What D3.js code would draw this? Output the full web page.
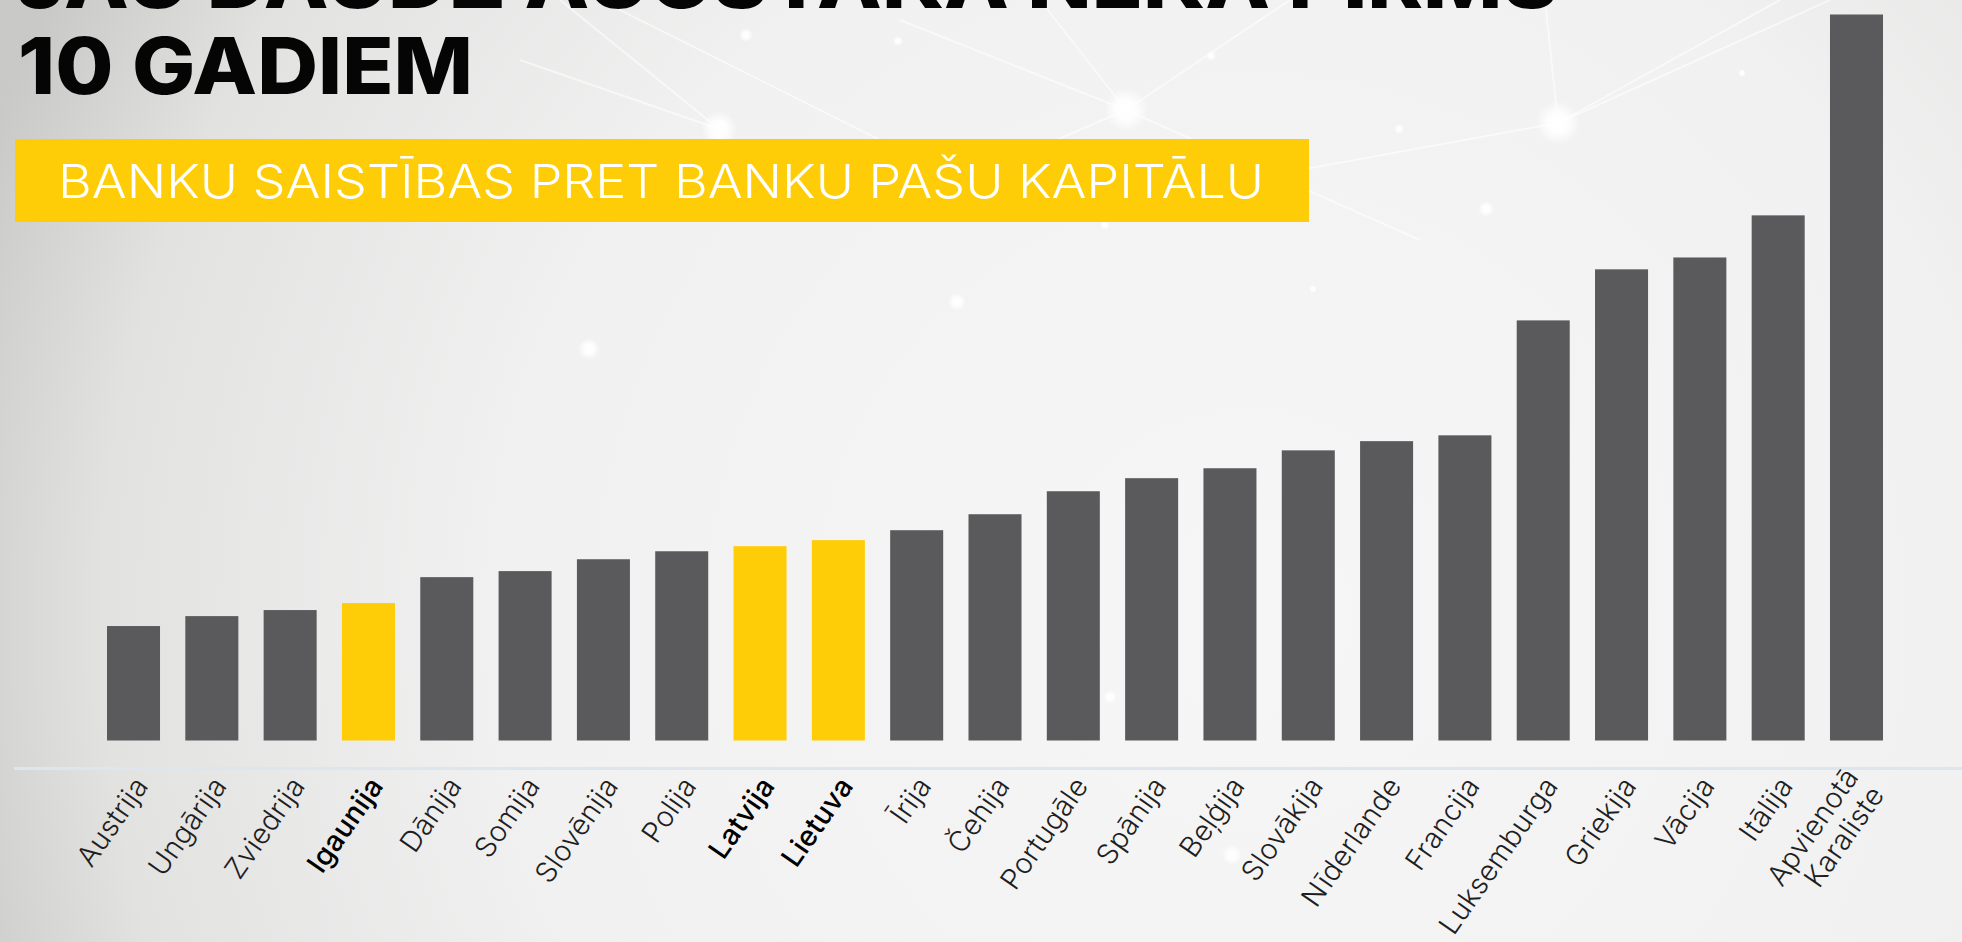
<!DOCTYPE html>
<html>
<head>
<meta charset="utf-8">
<script src="https://cdn.jsdelivr.net/npm/d3@7"></script>
<style>
  html, body { margin: 0; padding: 0; background: #f2f2f2; overflow: hidden; }
  svg { display: block; }
</style>
</head>
<body>
<div class="svg-container"></div>
<script>
// chart data (leverage ratio)
const countries = ["Austrija", "Ungārija", "Zviedrija", "Igaunija", "Dānija", "Somija", "Slovēnija", "Polija",
    "Latvija", "Lietuva", "Īrija", "Čehija", "Portugāle", "Spānija", "Beļģija", "Slovākija", "Nīderlande",
    "Francija", "Luksemburga", "Griekija", "Vācija", "Itālija", "Apvienotā Karaliste"];
const values = [4.73, 5.14, 5.39, 5.68, 6.75, 7.00, 7.49, 7.82, 8.03, 8.28, 8.69, 9.35, 10.30, 10.84,
    11.25, 11.99, 12.37, 12.61, 17.36, 19.47, 19.96, 21.70, 30.0];
const highlighted = ["Igaunija", "Latvija", "Lietuva"];

const titleLines = ["JAU DAUDZ AUGSTĀKA NEKĀ PIRMS", "10 GADIEM"];
const subtitle = "BANKU SAISTĪBAS PRET BANKU PAŠU KAPITĀLU";

let width = 1962;
let height = 942;

const GREY = "#5a5a5c";
const YELLOW = "#fecd07";

let svg = d3.select(".svg-container")
    .append("svg")
    .attr("width", width)
    .attr("height", height);

/**************
 * BACKGROUND *
 **************/

let defs = svg.append("defs");

let bg = defs.append("radialGradient")
    .attr("id", "bg")
    .attr("gradientUnits", "userSpaceOnUse")
    .attr("cx", 1250).attr("cy", 620).attr("r", 1350);
bg.append("stop").attr("offset", "0%").attr("stop-color", "#f6f6f6");
bg.append("stop").attr("offset", "55%").attr("stop-color", "#f1f1f1");
bg.append("stop").attr("offset", "85%").attr("stop-color", "#e2e2e1");
bg.append("stop").attr("offset", "100%").attr("stop-color", "#c9c9c8");

let glow = defs.append("radialGradient").attr("id", "glow");
glow.append("stop").attr("offset", "0%").attr("stop-color", "#ffffff").attr("stop-opacity", 1);
glow.append("stop").attr("offset", "45%").attr("stop-color", "#ffffff").attr("stop-opacity", 0.9);
glow.append("stop").attr("offset", "100%").attr("stop-color", "#ffffff").attr("stop-opacity", 0);

svg.append("rect")
    .attr("width", width)
    .attr("height", height)
    .attr("fill", "url(#bg)");

// faint network decoration behind the chart
const netLines = [
    [[560, 0], [719, 129]], [[600, 0], [880, 140]], [[1126, 110], [1040, 0]], [[1126, 110], [1290, 0]],
    [[1126, 110], [1420, 240]], [[1300, 170], [1558, 123]], [[1558, 123], [1830, 0]], [[1558, 123], [1780, 0]],
    [[1558, 123], [1545, 0]], [[719, 129], [520, 60]], [[1126, 110], [900, 20]], [[1010, 160], [1126, 110]]
];
const netDots = [
    [1126, 110, 22], [1558, 123, 22], [719, 129, 18], [746, 35, 7], [898, 41, 5], [1211, 56, 5],
    [1399, 129, 5], [1486, 209, 8], [1742, 73, 4], [957, 302, 9], [589, 349, 11], [1313, 289, 4],
    [1105, 225, 5], [1232, 855, 10], [1110, 697, 7]
];

let deco = svg.append("g").attr("class", "deco");
deco.selectAll("line")
    .data(netLines)
    .enter()
    .append("line")
    .attr("x1", d => d[0][0]).attr("y1", d => d[0][1])
    .attr("x2", d => d[1][0]).attr("y2", d => d[1][1])
    .attr("stroke", "#ffffff")
    .attr("stroke-opacity", 0.55)
    .attr("stroke-width", 2);
deco.selectAll("circle")
    .data(netDots)
    .enter()
    .append("circle")
    .attr("cx", d => d[0]).attr("cy", d => d[1]).attr("r", d => d[2])
    .attr("fill", "url(#glow)");

/*********
 * TITLE *
 *********/

svg.append("text")
    .attr("x", 16).attr("y", 8)
    .attr("textLength", 1542)
    .attr("lengthAdjust", "spacingAndGlyphs")
    .style("font-family", "Inter, Lato, sans-serif")
    .style("font-weight", 800)
    .style("font-size", "78px")
    .style("fill", "#050505")
    .text(titleLines[0]);

svg.append("text")
    .attr("x", 18).attr("y", 94)
    .attr("textLength", 455)
    .attr("lengthAdjust", "spacingAndGlyphs")
    .style("font-family", "Inter, Lato, sans-serif")
    .style("font-weight", 800)
    .style("font-size", "78px")
    .style("fill", "#050505")
    .text(titleLines[1]);

svg.append("rect")
    .attr("x", 15).attr("y", 139)
    .attr("width", 1294).attr("height", 83)
    .attr("fill", YELLOW);

svg.append("text")
    .attr("x", 58).attr("y", 198)
    .attr("textLength", 1206)
    .attr("lengthAdjust", "spacingAndGlyphs")
    .style("font-family", "Inter, Lato, sans-serif")
    .style("font-weight", 300)
    .style("font-size", "47px")
    .style("fill", "#ffffff")
    .text(subtitle);

/*********
 * CHART *
 *********/

const baseY = 740.5;

let x = d3.scaleBand()
    .domain(countries)
    .range([81.7, 1908.3])
    .padding(0.323);

let y = d3.scaleLinear()
    .domain([0, 30])
    .range([baseY, 14.5]);

svg.append("g").attr("class", "bars")
    .selectAll("rect")
    .data(countries)
    .enter()
    .append("rect")
    .attr("x", d => x(d))
    .attr("y", (d, i) => y(values[i]))
    .attr("width", x.bandwidth())
    .attr("height", (d, i) => y(0) - y(values[i]))
    .attr("fill", d => highlighted.includes(d) ? YELLOW : GREY);

// axis rule
svg.append("line")
    .attr("x1", 14).attr("x2", width)
    .attr("y1", 768.5).attr("y2", 768.5)
    .attr("stroke", "#dfe5ec")
    .attr("stroke-width", 3);

let axis = svg.append("g")
    .attr("class", "x-axis")
    .attr("transform", "translate(0,781)")
    .call(d3.axisBottom(x).tickSize(0).tickPadding(0));

axis.select(".domain").remove();

axis.selectAll(".tick text")
    .attr("y", 0)
    .attr("dy", null)
    .attr("transform", "translate(9,0) rotate(-55)")
    .attr("text-anchor", "end")
    .style("font-family", "Inter, Lato, sans-serif")
    .style("font-size", "28.5px")
    .style("letter-spacing", "0.3px")
    .style("font-weight", d => highlighted.includes(d) ? 500 : 300)
    .style("fill", d => highlighted.includes(d) ? "#000000" : "#1e1e1e")
    .each(function(d) {
        let words = d.length > 12 ? d.split(" ") : [d];
        let t = d3.select(this).text(null);
        words.forEach(function(w, i) {
            t.append("tspan")
                .attr("x", 0)
                .attr("dy", i === 0 ? (0.3 - (words.length - 1) * 0.55) + "em" : "1.1em")
                .text(w);
        });
    });
</script>
</body>
</html>
